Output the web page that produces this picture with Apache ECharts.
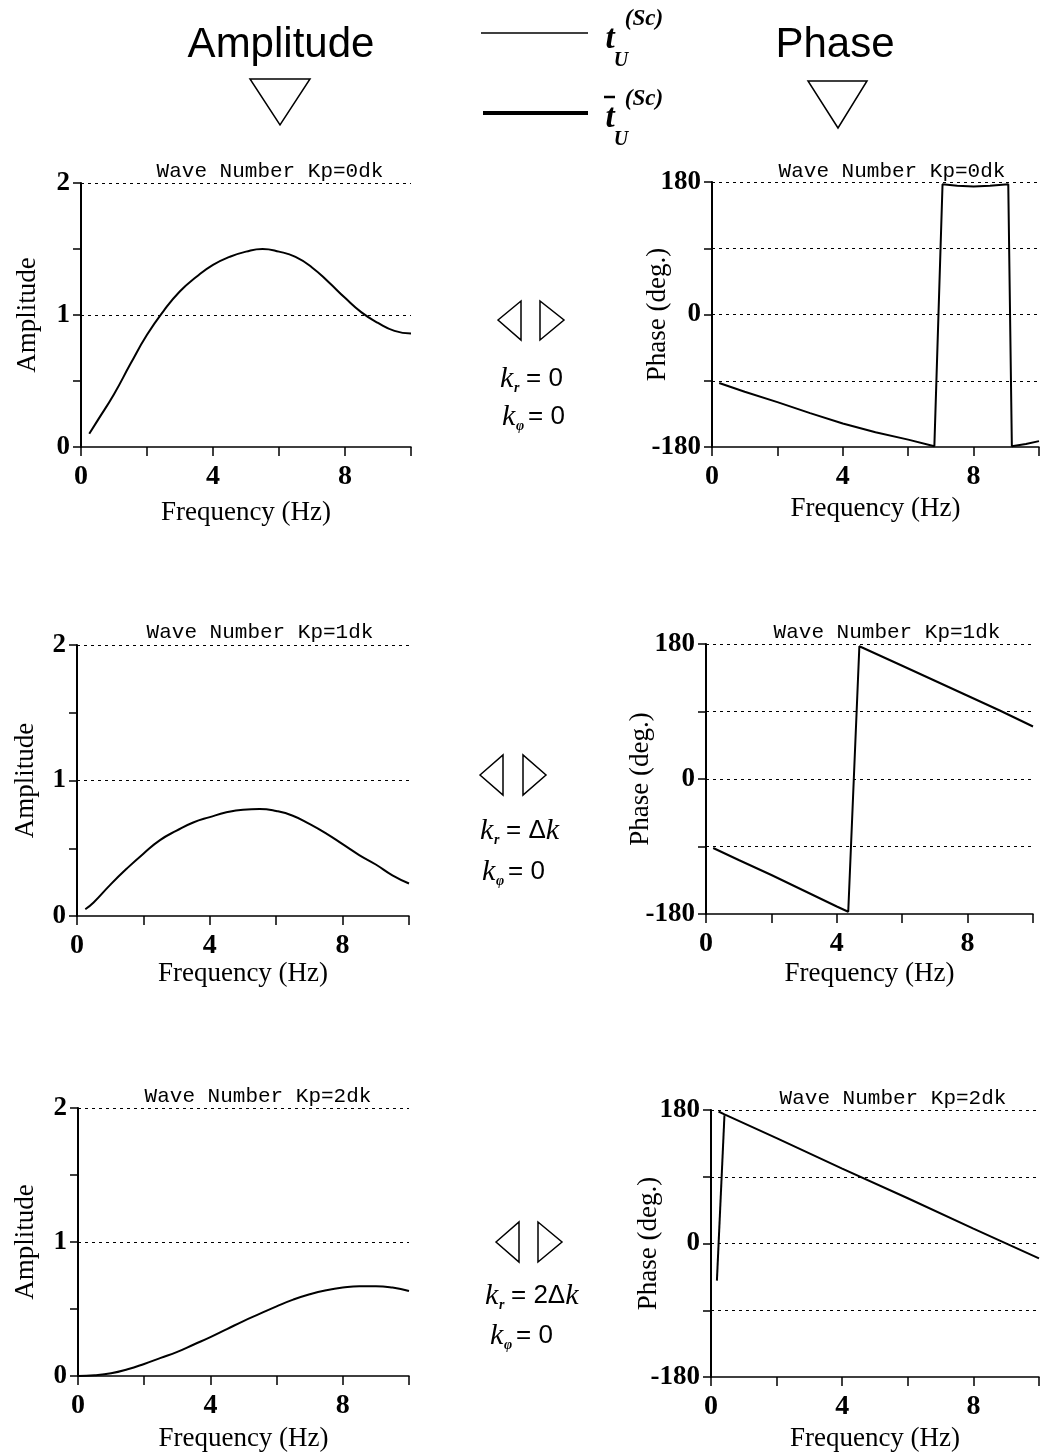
<!DOCTYPE html>
<html>
<head>
<meta charset="utf-8">
<title>ECharts</title>
<script src="https://cdn.jsdelivr.net/npm/echarts@6/dist/echarts.min.js"></script>
<style>
    *{margin:0;padding:0;}
    html,body{width:100%;height:100%;overflow:hidden;background:#fff;}
    #main{width:1042px;height:1455px;}
</style>
</head>
<body>
<div id="main"></div>
<script>
// axis ticks / labels
let freqLabels = [0, 4, 8];
let ampLabels = [0, 1, 2];
let phaseLabels = [-180, 0, 180];
let ampGridLevels = [1, 2];
let phaseGridLevels = [-90, 0, 90, 180];
let waveTitles = ['Wave Number Kp=0dk', 'Wave Number Kp=1dk', 'Wave Number Kp=2dk'];

// Kp = 0dk  [Hz, value]
let amp0 = [[0.25,0.10],[0.5,0.20],[1,0.40],[1.5,0.63],[2,0.85],[2.5,1.03],[3,1.18],[3.5,1.29],[4,1.38],[4.5,1.44],[5,1.48],
    [5.5,1.50],[6,1.48],[6.5,1.44],[7,1.36],[7.5,1.25],[8,1.13],[8.5,1.02],[9,0.94],[9.5,0.88],[10,0.86]];
let phase0 = [[0.22,-93],[1,-105],[2,-119],[3,-134],[4,-148],[5,-160],[6,-170],[6.8,-179],[7.05,177],[7.5,175],[8,174],
    [8.5,175],[9.06,177],[9.17,-179],[9.6,-176],[10,-172]];

// Kp = 1dk
let amp1 = [[0.25,0.05],[0.5,0.10],[1,0.23],[1.5,0.35],[2,0.46],[2.5,0.56],[3,0.63],[3.5,0.69],[4,0.73],[4.5,0.765],[5,0.785],
    [5.5,0.79],[6,0.775],[6.5,0.74],[7,0.68],[7.5,0.61],[8,0.53],[8.5,0.45],[9,0.38],[9.5,0.30],[10,0.24]];
let phase1 = [[0.22,-92],[1,-108],[2,-128],[3,-149],[4,-170],[4.35,-177],[4.69,177],[6,151],[7,131],[8,111],[9,91],[10,70]];

// Kp = 2dk
let amp2 = [[0,0],[0.5,0.005],[1,0.02],[1.5,0.05],[2,0.09],[2.5,0.135],[3,0.18],[3.5,0.235],[4,0.29],[4.5,0.35],[5,0.41],
    [5.5,0.465],[6,0.52],[6.5,0.57],[7,0.61],[7.5,0.64],[8,0.66],[8.5,0.67],[9,0.67],[9.5,0.66],[10,0.635]];
let phase2 = [[0.23,178],[0.41,174],[2,142],[4,101],[6,61],[8,20],[10,-20]];
let phase2Spike = [[0.18,-50],[0.41,173]];

let myCharts = echarts.init(document.getElementById('main'));

let grid = [], xAxis = [], yAxis = [], series = [];
let serif = '"Liberation Serif", "DejaVu Serif", serif';

function panel(box, isPhase, lines, yGap, xGap) {
    let idx = grid.length;
    grid.push({left: box[0], top: box[1], width: box[2], height: box[3]});
    xAxis.push({
        gridIndex: idx, type: 'value', min: 0, max: 10, interval: 2,
        name: 'Frequency (Hz)', nameLocation: 'middle', nameGap: xGap, nameMoveOverlap: false,
        nameTextStyle: {fontFamily: serif, fontSize: 27, color: '#000'},
        axisLine: {onZero: false, lineStyle: {color: '#000', width: 1.5}},
        axisTick: {length: 9, lineStyle: {color: '#000', width: 1.5}},
        axisLabel: {margin: 16, fontFamily: serif, fontSize: 28, fontWeight: 'bold', color: '#000',
            formatter: v => freqLabels.includes(v) ? String(v) : ''},
        splitLine: {show: false}
    });
    let labels = isPhase ? phaseLabels : ampLabels;
    yAxis.push({
        gridIndex: idx, type: 'value',
        min: isPhase ? -180 : 0, max: isPhase ? 180 : 2, interval: isPhase ? 90 : 0.5,
        name: isPhase ? 'Phase (deg.)' : 'Amplitude', nameLocation: 'middle', nameGap: yGap, nameMoveOverlap: false,
        nameTextStyle: {fontFamily: serif, fontSize: 27, color: '#000'},
        axisLine: {show: true, onZero: false, lineStyle: {color: '#000', width: 2}},
        axisTick: {show: true, length: 8, lineStyle: {color: '#000', width: 1.5}},
        axisLabel: {margin: 11, fontFamily: serif, fontSize: 27, fontWeight: 'bold', color: '#000',
            formatter: v => labels.includes(v) ? String(v) : ''},
        splitLine: {show: false}
    });
    lines.forEach((d, i) => {
        let s = {
            type: 'line', xAxisIndex: idx, yAxisIndex: idx, data: d,
            showSymbol: false, smooth: isPhase ? false : 0.5,
            lineStyle: {color: '#000', width: 2}
        };
        if (i === 0) {
            s.markLine = {
                silent: true, symbol: 'none', label: {show: false},
                lineStyle: {color: '#000', width: 1.2, type: [3, 4]},
                data: (isPhase ? phaseGridLevels : ampGridLevels).map(v => ({yAxis: v}))
            };
        }
        series.push(s);
    });
}

panel([81, 183, 330, 264], false, [amp0], 40, 52);
panel([712, 182, 328, 265], true, [phase0], 41, 48);
panel([77, 645, 332, 271], false, [amp1], 38, 44);
panel([706, 644, 327, 270], true, [phase1], 52, 46);
panel([78, 1108, 331, 268], false, [amp2], 39, 49);
panel([711, 1110, 329, 267], true, [phase2, phase2Spike], 49, 48);

let black = {stroke: '#000', lineWidth: 1.5, fill: 'none'};
function txt(x, y, text, font, extra) {
    return {type: 'text', x: x, y: y,
        style: Object.assign({text: text, font: font, fill: '#000', align: 'center', verticalAlign: 'middle'}, extra || {})};
}
function tri(points) {
    return {type: 'polygon', shape: {points: points}, style: black};
}
let mono = '21px "Liberation Mono", "DejaVu Sans Mono", monospace';
let sans = '"Liberation Sans", Arial, sans-serif';
let eqRich = {
    e: {fontFamily: sans, fontSize: 26, fill: '#000'},
    k: {fontFamily: serif, fontStyle: 'italic', fontSize: 30, fill: '#000'}
};
// k with subscript, then the right-hand side
function kText(x, y, sub, rhs) {
    let rhsText = rhs.endsWith('k') ? '{e|= ' + rhs.slice(0, -1) + '}{k|k}' : '{e|= ' + rhs + '}';
    return [
        txt(x, y, 'k', 'italic 30px ' + serif, {align: 'left'}),
        txt(x + 14, y + 9, sub, 'italic bold 14px ' + serif, {align: 'left'}),
        {type: 'text', x: x + 26, y: y, style: {text: rhsText, rich: eqRich, align: 'left', verticalAlign: 'middle'}}
    ];
}

let graphic = [
    txt(281, 45, 'Amplitude', '42px ' + sans),
    txt(835, 45, 'Phase', '42px ' + sans),
    tri([[250, 79], [310, 79], [280, 125]]),
    tri([[808, 81], [867, 81], [838, 128]]),
    {type: 'line', shape: {x1: 481, y1: 33, x2: 588, y2: 33}, style: {stroke: '#000', lineWidth: 1.5}},
    {type: 'line', shape: {x1: 483, y1: 113, x2: 588, y2: 113}, style: {stroke: '#000', lineWidth: 4}},
    txt(610, 39, 't', 'italic bold 33px ' + serif),
    txt(644, 19, '(Sc)', 'italic bold 23px ' + serif),
    txt(621, 61, 'U', 'italic bold 20px ' + serif),
    {type: 'line', shape: {x1: 604, y1: 97, x2: 615, y2: 97}, style: {stroke: '#000', lineWidth: 2.5}},
    txt(610, 118, 't', 'italic bold 33px ' + serif),
    txt(644, 99, '(Sc)', 'italic bold 23px ' + serif),
    txt(621, 140, 'U', 'italic bold 20px ' + serif),

    txt(270, 171, waveTitles[0], mono),
    txt(892, 171, waveTitles[0], mono),
    txt(260, 632, waveTitles[1], mono),
    txt(887, 632, waveTitles[1], mono),
    txt(258, 1096, waveTitles[2], mono),
    txt(893, 1098, waveTitles[2], mono),

    tri([[498, 320], [521, 301], [521, 340]]),
    tri([[540, 301], [540, 340], [564, 320]]),
    ...kText(500, 379, 'r', '0'),
    ...kText(502, 417, 'φ', '0'),
    tri([[480, 775], [503, 755], [503, 795]]),
    tri([[523, 755], [523, 795], [546, 775]]),
    ...kText(480, 831, 'r', 'Δk'),
    ...kText(482, 872, 'φ', '0'),
    tri([[496, 1242], [519, 1222], [519, 1262]]),
    tri([[538, 1222], [538, 1262], [562, 1242]]),
    ...kText(485, 1296, 'r', '2Δk'),
    ...kText(490, 1336, 'φ', '0')
];

let option = {
    backgroundColor: '#fff',
    animation: false,
    grid, xAxis, yAxis, series, graphic
};
myCharts.setOption(option);
</script>
</body>
</html>
